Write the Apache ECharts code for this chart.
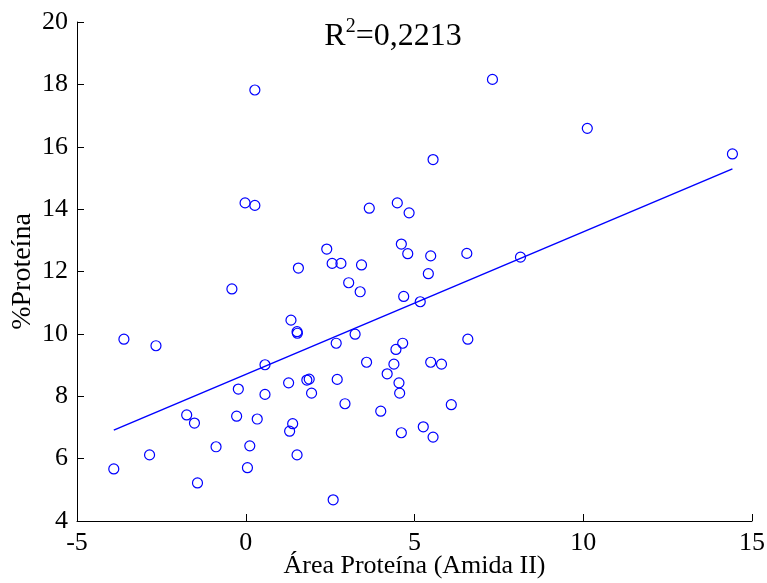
<!DOCTYPE html>
<html><head><meta charset="utf-8">
<script src="https://cdn.jsdelivr.net/npm/echarts@6/dist/echarts.min.js"></script>
<style>html,body{margin:0;padding:0;background:#fff}#c{width:767px;height:583px}</style>
</head><body><div id="c"></div>
<script>
const xValues = [-3.91,-3.61,-2.66,-2.85,-1.75,-1.52,-1.43,-0.88,-0.41,-0.27,-0.22,-0.02,0.27,0.27,0.05,0.12,0.34,0.57,0.57,1.27,1.30,1.39,1.34,1.52,1.53,1.56,1.52,1.81,1.88,1.95,2.40,2.56,2.82,2.59,2.68,2.71,2.94,3.05,3.24,3.39,3.43,3.58,3.66,4.00,4.19,4.39,4.45,4.49,4.54,4.56,4.61,4.61,4.65,4.68,4.80,4.84,5.17,5.26,5.41,5.48,5.48,5.55,5.55,5.80,6.09,6.55,6.58,7.31,8.14,10.12,14.42];
const yValues = [5.67,9.83,9.62,6.12,7.40,7.14,5.22,6.38,11.44,7.36,8.23,14.20,14.12,17.82,5.71,6.41,7.27,9.01,8.06,8.43,6.88,7.12,10.44,10.07,10.02,12.11,6.12,8.52,8.55,8.10,12.72,12.26,12.26,4.68,9.70,8.54,7.76,11.64,9.99,11.35,12.21,9.09,14.03,7.52,8.72,9.03,9.50,14.20,8.43,8.10,6.83,12.88,9.70,11.20,12.57,13.88,11.03,7.02,11.93,12.50,9.09,15.59,6.69,9.03,7.73,12.58,9.83,18.16,12.46,16.59,15.77];
const fitSlope = 0.457;
const fitIntercept = 8.70;
const r2Text = '0,2213';
const xTicks = [-5, 0, 5, 10, 15];
const yTicks = [4, 6, 8, 10, 12, 14, 16, 18, 20];

const points = xValues.map((x, i) => [x, yValues[i]]);
const xMinD = Math.min(...xValues), xMaxD = Math.max(...xValues);
const fitLine = [[xMinD, fitIntercept + fitSlope * xMinD], [xMaxD, fitIntercept + fitSlope * xMaxD]];

const font = '"Liberation Serif", "Times New Roman", serif';
const chart = echarts.init(document.getElementById('c'), null, {renderer: 'canvas'});
chart.setOption({
  animation: false,
  backgroundColor: '#fff',
  title: {
    text: '{r|R}{s|2}{r|=' + r2Text + '}',
    left: 388, top: 12, textAlign: 'center',
    textStyle: {
      fontWeight: 'normal',
      rich: {
        r: {fontFamily: font, fontSize: 32, fontWeight: 'normal', color: '#000', verticalAlign: 'bottom', lineHeight: 36},
        s: {fontFamily: font, fontSize: 20, fontWeight: 'normal', color: '#000', verticalAlign: 'top', lineHeight: 36, padding: [0, 0, 14, 0]}
      }
    }
  },
  grid: {left: 77, right: 15, top: 22, bottom: 62, containLabel: false, outerBoundsMode: 'none'},
  xAxis: {
    type: 'value', min: xTicks[0], max: xTicks[xTicks.length - 1], interval: 5,
    name: 'Área Proteína (Amida II)', nameLocation: 'middle', nameGap: 32, nameMoveOverlap: false,
    nameTextStyle: {fontFamily: font, fontSize: 26, color: '#000'},
    axisLine: {show: true, onZero: false, lineStyle: {color: '#000', width: 1}},
    axisTick: {show: true, inside: true, length: 7, lineStyle: {color: '#000'}},
    axisLabel: {fontFamily: font, fontSize: 26, color: '#000', margin: 9},
    splitLine: {show: false}
  },
  yAxis: {
    type: 'value', min: yTicks[0], max: yTicks[yTicks.length - 1], interval: 2,
    name: '%Proteína', nameLocation: 'middle', nameGap: 40, nameRotate: 90, nameMoveOverlap: false,
    nameTextStyle: {fontFamily: font, fontSize: 28, color: '#000'},
    axisLine: {show: true, onZero: false, lineStyle: {color: '#000', width: 1}},
    axisTick: {show: true, inside: true, length: 7, lineStyle: {color: '#000'}},
    axisLabel: {fontFamily: font, fontSize: 26, color: '#000', margin: 9},
    splitLine: {show: false}
  },
  series: [
    {
      type: 'line', data: fitLine, symbol: 'none', silent: true,
      lineStyle: {color: '#0000ff', width: 1.5}, z: 2
    },
    {
      type: 'scatter', data: points, symbol: 'circle', symbolSize: 10,
      itemStyle: {color: 'rgba(255,255,255,0)', borderColor: '#0000ff', borderWidth: 1.2, opacity: 1}, z: 3
    }
  ]
});
</script></body></html>
